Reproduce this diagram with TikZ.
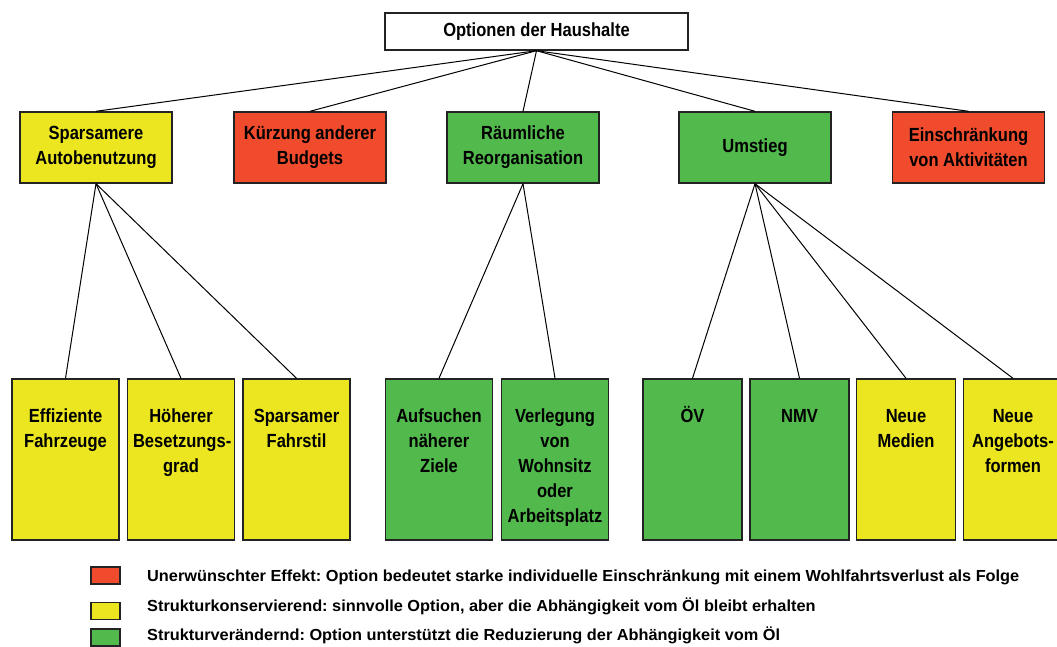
\documentclass[tikz,border=0pt]{standalone}
\usepackage{fontspec}
\setmainfont{Liberation Sans}[FakeStretch=0.87]
\newfontfamily\legendfont{Liberation Sans}[FakeStretch=1.02]
\definecolor{optred}{RGB}{240,75,45}
\definecolor{optyellow}{RGB}{235,230,32}
\definecolor{optgreen}{RGB}{82,185,77}
\definecolor{optframe}{RGB}{35,35,35}
\frenchspacing
\newcommand{\lowtext}[1]{\parbox[t][150pt][t]{96pt}{\centering\vspace*{20pt}\strut#1}}
\begin{document}
\begin{tikzpicture}[x=1pt,y=-1pt,
  box/.style={draw=optframe,line width=1.4pt,font=\fontsize{19}{25}\selectfont\bfseries},
  topbox/.style={box,fill=white,minimum width=303pt,minimum height=37pt,inner sep=2pt},
  midbox/.style={box,align=center,minimum width=152pt,minimum height=71pt,inner sep=2pt},
  lowbox/.style={box,minimum width=#1,inner xsep=1.5pt,inner ysep=5.5pt},
  link/.style={draw=black,line width=1pt},
  legsq/.style={draw=optframe,line width=1.2pt,minimum width=29pt,minimum height=17pt,inner sep=0pt},
  legtext/.style={anchor=west,inner sep=0pt,font=\fontsize{16}{19}\selectfont\legendfont\bfseries}]
  \useasboundingbox (0,0) rectangle (1057,646);
  \node[topbox] (haus) at (536.5,31.5) {Optionen der Haushalte};
%%%
  \node[midbox,fill=optyellow] (auto)    at (96,147.5)  {Sparsamere\\Autobenutzung};
  \node[midbox,fill=optred]    (budget)  at (310,147.5) {Kürzung anderer\\Budgets};
  \node[midbox,fill=optgreen]  (raum)    at (523,147.5) {Räumliche\\Reorganisation};
  \node[midbox,fill=optgreen]  (umstieg) at (755,147.5) {Umstieg};
  \node[midbox,fill=optred]    (aktiv)   at (968.5,147.5) {Einschränkung\\von Aktivitäten};
%%%
  \node[lowbox=107pt,fill=optyellow] (effiz)    at (65.5,459.5)  {\lowtext{Effiziente\\Fahrzeuge}};
  \node[lowbox=107pt,fill=optyellow] (besetz)   at (181,459.5)   {\lowtext{Höherer\\\mbox{Besetzungs-}\\grad}};
  \node[lowbox=107pt,fill=optyellow] (fahrstil) at (296.5,459.5) {\lowtext{Sparsamer\\Fahrstil}};
  \node[lowbox=107pt,fill=optgreen]  (ziele)    at (439,459.5)   {\lowtext{Aufsuchen\\näherer\\Ziele}};
  \node[lowbox=107pt,fill=optgreen]  (wohnsitz) at (555,459.5)   {\lowtext{Verlegung\\von\\Wohnsitz\\oder\\Arbeitsplatz}};
  \node[lowbox=99pt,fill=optgreen]   (oev)      at (692.5,459.5) {\lowtext{ÖV}};
  \node[lowbox=99pt,fill=optgreen]   (nmv)      at (799.5,459.5) {\lowtext{NMV}};
  \node[lowbox=99pt,fill=optyellow]  (medien)   at (906,459.5)   {\lowtext{Neue\\Medien}};
  \node[lowbox=99pt,fill=optyellow]  (angebot)  at (1013,459.5)  {\lowtext{Neue\\\mbox{Angebots-}\\formen}};
%%%
  \foreach \n in {auto,budget,raum,umstieg,aktiv}
    \draw[link] (haus.south) -- (\n.north);
  \foreach \n in {effiz,besetz,fahrstil}
    \draw[link] (auto.south) -- (\n.north);
  \foreach \n in {ziele,wohnsitz}
    \draw[link] (raum.south) -- (\n.north);
  \foreach \n in {oev,nmv,medien,angebot}
    \draw[link] (umstieg.south) -- (\n.north);
%%%
  \node[legsq,fill=optred]    (legred)    at (105.5,575.5) {};
  \node[legsq,fill=optyellow] (legyellow) at (105.5,611)   {};
  \node[legsq,fill=optgreen]  (leggreen)  at (105.5,637.5) {};
  \node[legtext] (txtred)    at (147,577) {Unerwünschter Effekt: Option bedeutet starke individuelle Einschränkung mit einem Wohlfahrtsverlust als Folge};
  \node[legtext] (txtyellow) at (147,606) {Strukturkonservierend: sinnvolle Option, aber die Abhängigkeit vom Öl bleibt erhalten};
  \node[legtext] (txtgreen)  at (147,635) {Strukturverändernd: Option unterstützt die Reduzierung der Abhängigkeit vom Öl};
\end{tikzpicture}
\end{document}
